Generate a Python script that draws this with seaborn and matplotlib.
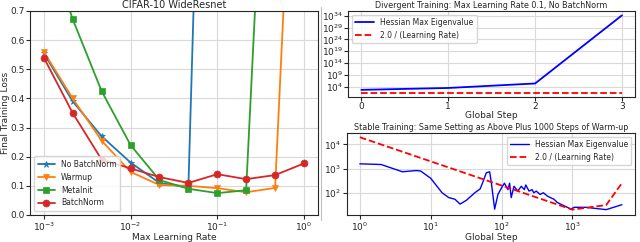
import numpy as np
import pandas as pd
import seaborn as sns
import matplotlib
matplotlib.use("Agg")
import matplotlib.pyplot as plt
from matplotlib.lines import Line2D

# left panel: final loss vs max learning rate
lrs = [1e-3, 2.15e-3, 4.64e-3, 1e-2, 2.15e-2, 4.64e-2, 1e-1, 2.15e-1, 4.64e-1, 1.0]
loss_no_bn = [0.555, 0.39, 0.27, 0.18, 0.11, 0.095, 3.5, None, None, None]
loss_warmup = [0.56, 0.40, 0.255, 0.148, 0.103, 0.10, 0.092, 0.078, 0.093, 2.2]
loss_metainit = [0.97, 0.672, 0.425, 0.24, 0.12, 0.09, 0.075, 0.085, 2.1, None]
loss_bn = [0.54, 0.35, 0.19, 0.16, 0.13, 0.11, 0.14, 0.123, 0.137, 0.177]

# top right: divergent run
div_steps = [0, 1, 2, 3]
div_hessian = [4e2, 2.5e3, 2e5, 1.5e34]
div_two_over_lr = [20, 20, 20, 20]

# bottom right: stable run with warm-up
st_steps = [1, 2, 4, 6.2, 7.2, 10, 14.5, 18, 22, 26, 32, 42, 50, 55, 61, 68, 72, 80, 89,
            100, 110, 123, 130, 137, 150, 170, 190, 210, 220, 245, 270, 285, 310, 350,
            390, 440, 490, 550, 610, 680, 760, 850, 950, 1060, 1530, 3000, 5000]
st_hessian = [1580, 1480, 740, 830, 800, 400, 100, 63, 54, 34, 49, 100, 145, 295, 670, 740,
              250, 21, 85, 160, 250, 135, 250, 63, 186, 117, 186, 135, 210, 117, 135, 100,
              117, 85, 100, 74, 63, 54, 40, 34, 29, 25, 21, 25, 25, 20, 32]
st_lr_steps = [1, 1000, 3000, 5000]
st_two_over_lr = [20000, 20, 31, 250]

sns.set_style("whitegrid", {"axes.edgecolor": ".15", "grid.color": ".85",
                            "xtick.bottom": True, "ytick.left": True})
plt.rcParams["font.family"] = ["DejaVu Sans"]
plt.rcParams["xtick.major.size"] = 3
plt.rcParams["ytick.major.size"] = 3
plt.rcParams["xtick.minor.size"] = 0
plt.rcParams["ytick.minor.size"] = 0

fig = plt.figure(figsize=(6.4, 2.42), dpi=100)
ax1 = fig.add_axes([0.0475, 0.1116, 0.4494, 0.843])
ax2 = fig.add_axes([0.5442, 0.6004, 0.448, 0.354])
ax3 = fig.add_axes([0.5417, 0.1116, 0.4505, 0.339])

pal = sns.color_palette("tab10")
series = [("No BatchNorm", loss_no_bn, "*", pal[0]),
          ("Warmup", loss_warmup, "v", pal[1]),
          ("MetaInit", loss_metainit, "s", pal[2]),
          ("BatchNorm", loss_bn, "o", pal[3])]
for name, vals, mk, col in series:
    df = pd.DataFrame({"lr": lrs, "loss": vals}).dropna()
    sns.lineplot(data=df, x="lr", y="loss", ax=ax1, color=col, marker=mk, markersize=5,
                 markeredgewidth=0.5, markeredgecolor=col, lw=1.3, label=name)
ax1.set_xscale("log")
ax1.set_ylim(0, 0.7)
ax1.set_xlim(7e-4, 1.45)
ax1.set_title("CIFAR-10 WideResnet", fontsize=7, pad=2)
ax1.set_xlabel("Max Learning Rate", fontsize=6.5, labelpad=0)
ax1.set_ylabel("Final Training Loss", fontsize=6.5, labelpad=0)
ax1.tick_params(labelsize=6.5, pad=1)
ax1.legend(loc="lower left", fontsize=5.5, frameon=True, bbox_to_anchor=(0.0, 0.0),
           borderpad=0.5, handlelength=2.2)

df2 = pd.DataFrame({"step": div_steps, "hess": div_hessian, "lr": div_two_over_lr})
sns.lineplot(data=df2, x="step", y="hess", ax=ax2, color="blue", lw=1.3,
             label="Hessian Max Eigenvalue")
sns.lineplot(data=df2, x="step", y="lr", ax=ax2, color="red", lw=1.3, linestyle="--",
             label="2.0 / (Learning Rate)")
ax2.set_yscale("log")
ax2.set_ylim(0.5, 1e36)
ax2.set_yticks([1e4, 1e9, 1e14, 1e19, 1e24, 1e29, 1e34])
ax2.set_xticks([0, 1, 2, 3])
ax2.set_title("Divergent Training: Max Learning Rate 0.1, No BatchNorm", fontsize=5.8, pad=2)
ax2.set_xlabel("Global Step", fontsize=6.5, labelpad=0)
ax2.set_ylabel("")
ax2.tick_params(labelsize=6.5, pad=1)
ax2.legend(loc="upper left", fontsize=5.5, handlelength=2.5)

df3 = pd.DataFrame({"step": st_steps, "hess": st_hessian})
df3b = pd.DataFrame({"step": st_lr_steps, "lr": st_two_over_lr})
sns.lineplot(data=df3, x="step", y="hess", ax=ax3, color="blue", lw=1.0,
             label="Hessian Max Eigenvalue")
sns.lineplot(data=df3b, x="step", y="lr", ax=ax3, color="red", lw=1.3, linestyle="--",
             label="2.0 / (Learning Rate)")
ax3.set_xscale("log")
ax3.set_yscale("log")
ax3.set_ylim(12, 3e4)
ax3.set_title("Stable Training: Same Setting as Above Plus 1000 Steps of Warm-up",
              fontsize=5.8, pad=2)
ax3.set_xlabel("Global Step", fontsize=6.5, labelpad=0)
ax3.set_ylabel("")
ax3.tick_params(labelsize=6.5, pad=1)
ax3.legend(loc="upper right", fontsize=5.5, handlelength=2.5)

fig.add_artist(Line2D([0.502, 0.502], [0.09, 0.97], color="0.75", lw=0.8))

fig.savefig("out.png", dpi=100)
